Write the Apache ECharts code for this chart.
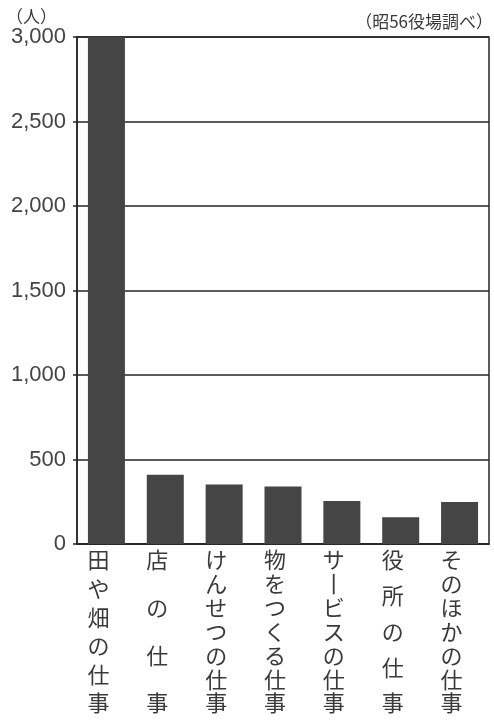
<!DOCTYPE html>
<html>
<head>
<meta charset="utf-8">
<script src="https://cdn.jsdelivr.net/npm/echarts@6/dist/echarts.min.js"></script>
<style>
html,body{margin:0;padding:0;background:#fff;}
#c{width:494px;height:721px;}
</style>
</head>
<body>
<div id="c"></div>
<script>
// Data
const categories = ['田や畑の仕事', '店の仕事', 'けんせつの仕事', '物をつくる仕事', 'サービスの仕事', '役所の仕事', 'そのほかの仕事'];
const workers = [3000, 410, 352, 340, 255, 158, 248];
const yTicks = [0, 500, 1000, 1500, 2000, 2500, 3000];
const unitLabel = '（人）';
const sourceLabel = '（昭56役場調べ）';

const chart = echarts.init(document.getElementById('c'), null, {renderer: 'canvas'});
const lineColor = '#262626';
const textColor = '#3a3a3a';
const cjk = '"Noto Sans CJK JP", "Noto Sans", sans-serif';
const spanTotal = 143;

const rich = {};
[3, 4, 5, 6, 7, 8].forEach(n => {
  rich['r' + n] = {
    fontSize: 22,
    fontFamily: cjk,
    color: textColor,
    lineHeight: spanTotal / (n - 1),
    align: 'center',
    padding: [0, 16, 0, 0]
  };
});

chart.setOption({
  backgroundColor: '#ffffff',
  animation: false,
  grid: {
    left: 77, right: 5, top: 37, bottom: 177,
    show: true, borderColor: lineColor, borderWidth: 1.5,
    containLabel: false, outerBoundsMode: 'none'
  },
  graphic: [
    {type: 'text', left: 6, top: 8, style: {text: unitLabel, font: '17px ' + cjk, fill: textColor}},
    {type: 'text', right: 1, top: 13, style: {text: sourceLabel, font: '17px ' + cjk, fill: textColor}}
  ],
  xAxis: {
    type: 'category',
    data: categories,
    axisLine: {show: true, lineStyle: {color: lineColor, width: 1.5}},
    axisTick: {show: false},
    axisLabel: {
      interval: 0,
      margin: 87.5,
      verticalAlign: 'middle',
      formatter: function (v) {
        const chars = v.split('');
        const n = chars.length;
        return chars.map(c => '{r' + n + '|' + (c === 'ー' ? '丨' : c) + '}').join('\n');
      },
      rich: rich
    }
  },
  yAxis: {
    type: 'value',
    min: yTicks[0],
    max: yTicks[yTicks.length - 1],
    interval: 500,
    axisLine: {show: true, lineStyle: {color: lineColor, width: 1.5}},
    axisTick: {show: true, inside: false, length: 4, lineStyle: {color: lineColor, width: 1.5}},
    splitLine: {show: true, lineStyle: {color: lineColor, width: 1.5}},
    axisLabel: {
      margin: 11,
      fontSize: 22,
      fontFamily: '"Liberation Sans", Arial, sans-serif',
      color: '#444',
      padding: [4, 0, 0, 0],
      formatter: function (v) { return v.toLocaleString('en-US'); }
    }
  },
  series: [{
    type: 'bar',
    data: workers,
    barWidth: 37,
    itemStyle: {color: '#454545'}
  }]
});
</script>
</body>
</html>
